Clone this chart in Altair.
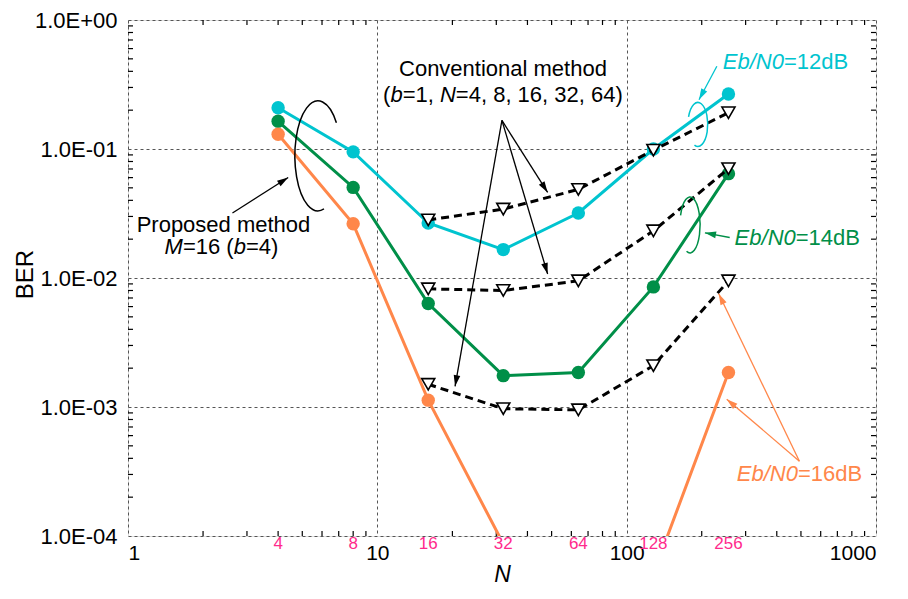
import math
import altair as alt
import pandas as pd

W, H = 748, 516
FONT = "Liberation Sans"

# ---------------- data ----------------
N_prop = [4, 8, 16, 32, 64, 128, 256]
ber_prop_12dB = [0.209, 0.095, 0.0267, 0.0166, 0.0319, 0.100, 0.267]
ber_prop_14dB = [0.164, 0.0504, 0.00634, 0.00175, 0.00185, 0.00853, 0.0644]
ber_prop_16dB = [0.130, 0.0263, 0.00113, 0.000087, 0.00003, 0.000051, 0.00185]

N_conv = [16, 32, 64, 128, 256]
ber_conv_12dB = [0.0282, 0.0342, 0.0486, 0.098, 0.191]
ber_conv_14dB = [0.00824, 0.0080, 0.0095, 0.0232, 0.0704]
ber_conv_16dB = [0.0015, 0.00097, 0.00095, 0.00209, 0.0095]

series_names = ["12dB", "14dB", "16dB"]
series_colors = ["#00c4cf", "#008f48", "#ff874a"]
PINK = "#ff2a8c"

x_tick_values = [1, 10, 100, 1000]
x_tick_labels = ["1", "10", "100", "1000"]
n_tick_values = [4, 8, 16, 32, 64, 128, 256]
n_tick_labels = ["4", "8", "16", "32", "64", "128", "256"]
y_tick_values = [0.0001, 0.001, 0.01, 0.1, 1.0]
y_tick_labels = ["1.0E-04", "1.0E-03", "1.0E-02", "1.0E-01", "1.0E+00"]
minor_mult = [2, 3, 4, 5, 6, 7, 8, 9]
x_decades = [1, 10, 100]
y_decades = [0.0001, 0.001, 0.01, 0.1]

# annotation text lines: anchor (N, BER), alignment, colour, segments (text, italic)
text_lines = [
    dict(N=31.9, BER=0.415, align="center", color="black",
         segments=[("Conventional method", False)]),
    dict(N=31.9, BER=0.263, align="center", color="black",
         segments=[("(", False), ("b", True), ("=1, ", False), ("N", True),
                   ("=4, 8, 16, 32, 64)", False)]),
    dict(N=2.415, BER=0.0258, align="center", color="black",
         segments=[("Proposed method", False)]),
    dict(N=2.37, BER=0.01725, align="center", color="black",
         segments=[("M", True), ("=16 (", False), ("b", True), ("=4)", False)]),
    dict(N=243, BER=0.469, align="left", color=series_colors[0],
         segments=[("Eb/N0", True), ("=12dB", False)]),
    dict(N=271, BER=0.0206, align="left", color=series_colors[1],
         segments=[("Eb/N0", True), ("=14dB", False)]),
    dict(N=276.4, BER=0.000303, align="left", color=series_colors[2],
         segments=[("Eb/N0", True), ("=16dB", False)]),
]

# arrows: start (N, BER) -> tip (N2, BER2)
arrows = [
    dict(N=2.624, BER=0.0319, N2=4.39, BER2=0.0601, color="black"),
    dict(N=31.6, BER=0.1665, N2=48.2, BER2=0.0461, color="black"),
    dict(N=31.6, BER=0.1665, N2=48.2, BER2=0.01073, color="black"),
    dict(N=31.6, BER=0.1665, N2=20.5, BER2=0.001446, color="black"),
    dict(N=230, BER=0.438, N2=195, BER2=0.241, color=series_colors[0]),
    dict(N=259, BER=0.0206, N2=206, BER2=0.0224, color=series_colors[1]),
    dict(N=493, BER=0.00038, N2=252, BER2=0.00115, color=series_colors[2]),
    dict(N=493, BER=0.00038, N2=234, BER2=0.00755, color=series_colors[2]),
]

# ellipse annotations: centre, colour, custom arc path, symbol size
ellipses = [
    dict(N=5.78, BER=0.0885, color="black",
         path="M0.335,-0.602 A0.42,1 0 1 0 0.109,0.966", size=12100),
    dict(N=193, BER=0.155, color=series_colors[0],
         path="M-0.423,-0.342 A0.45,1 0 1 1 -0.154,0.94", size=1936),
    dict(N=179.5, BER=0.0258, color=series_colors[1],
         path="M-0.338,-0.342 A0.36,1 0 1 1 -0.123,0.94", size=3136),
]

# ---------------- helpers ----------------
AW = {" ": .278, "(": .333, ")": .333, ",": .278, "/": .278, "=": .584,
      "B": .667, "C": .722, "E": .667, "M": .833, "N": .722, "P": .667,
      "a": .556, "b": .556, "c": .5, "d": .556, "e": .556, "h": .556,
      "i": .222, "l": .222, "m": .833, "n": .556, "o": .556, "p": .556,
      "r": .333, "s": .5, "t": .278, "v": .5}
TEXT_SIZE = 22


def text_width(s, size):
    return sum(AW.get(c, 0.556) for c in s) * size


def px_x(n):
    return math.log10(n) * W / 3


def n_from_px(p):
    return 10 ** (p * 3 / W)


def label_expr(values, labels):
    expr = f"'{labels[-1]}'"
    for v, l in reversed(list(zip(values[:-1], labels[:-1]))):
        expr = f"(datum.value < {v * 1.5!r} ? '{l}' : {expr})"
    return expr


rows = []
for ln in text_lines:
    total = sum(text_width(t, TEXT_SIZE) for t, _ in ln["segments"])
    left = px_x(ln["N"]) - (total / 2 if ln["align"] == "center" else 0)
    for t, it in ln["segments"]:
        rows.append(dict(N=n_from_px(left), BER=ln["BER"], text=t,
                         italic=it, color=ln["color"]))
        left += text_width(t, TEXT_SIZE)
text_df = pd.DataFrame(rows)

arrow_df = pd.DataFrame(arrows)
heads = []
for a in arrows:
    dx = (math.log10(a["N2"]) - math.log10(a["N"])) * W / 3
    dy = -(math.log10(a["BER2"]) - math.log10(a["BER"])) * H / 4
    ang = math.degrees(math.atan2(dx, -dy)) % 360
    heads.append(dict(N=a["N2"], BER=a["BER2"], angle=ang, color=a["color"]))
head_df = pd.DataFrame(heads)

prop_df = pd.DataFrame(
    [dict(N=n, BER=b, series=s)
     for s, bers in zip(series_names, [ber_prop_12dB, ber_prop_14dB, ber_prop_16dB])
     for n, b in zip(N_prop, bers)])
conv_df = pd.DataFrame(
    [dict(N=n, BER=b, series=s)
     for s, bers in zip(series_names, [ber_conv_12dB, ber_conv_14dB, ber_conv_16dB])
     for n, b in zip(N_conv, bers)])

xminor_df = pd.DataFrame({"N": [m * d for d in x_decades for m in minor_mult]})
yminor_df = pd.DataFrame({"BER": [m * d for d in y_decades for m in minor_mult]})
nlab_df = pd.DataFrame({"N": n_tick_values, "label": n_tick_labels})

# ---------------- scales / axes ----------------
xs = alt.Scale(type="log", domain=[1, 1000], nice=False)
ys = alt.Scale(type="log", domain=[0.0001, 1], nice=False)

xaxis = alt.Axis(values=x_tick_values, labelExpr=label_expr(x_tick_values, x_tick_labels),
                 labelFontSize=21, labelPadding=6, labelFont=FONT, labelColor="black",
                 ticks=False, domain=False, grid=True, gridDash=[3, 3], gridColor="#555555",
                 gridWidth=1, title="N", titleFont=FONT, titleFontSize=23,
                 titleFontStyle="italic", titleFontWeight="normal", titleColor="black",
                 titleX=374, titleY=50, titleBaseline="bottom")
yaxis = alt.Axis(values=y_tick_values, labelExpr=label_expr(y_tick_values, y_tick_labels),
                 labelFontSize=22, labelPadding=11, labelFont=FONT, labelColor="black",
                 ticks=False, domain=False, grid=True, gridDash=[3, 3], gridColor="#555555",
                 gridWidth=1, title="BER", titleFont=FONT, titleFontSize=24,
                 titleFontWeight="normal", titleColor="black", titleAngle=270,
                 titleX=-96, titleY=254, titleBaseline="alphabetic")

X = alt.X("N:Q", scale=xs, axis=xaxis)
Y = alt.Y("BER:Q", scale=ys, axis=yaxis)
COL = alt.Color("series:N", scale=alt.Scale(domain=series_names, range=series_colors),
                legend=None)

TRI = "M-1,-0.875 L1,-0.875 L0,0.875 Z"
ARROW = "M0,0 L0.45,1.5 L-0.45,1.5 Z"

layers = []

# inward minor ticks on all four sides
tick_kw = dict(color="black", strokeWidth=1.2)
layers.append(alt.Chart(xminor_df).mark_rule(**tick_kw).encode(
    x=X, y=alt.value(H), y2=alt.value(H - 5)))
layers.append(alt.Chart(xminor_df).mark_rule(**tick_kw).encode(
    x=X, y=alt.value(0), y2=alt.value(5)))
layers.append(alt.Chart(yminor_df).mark_rule(**tick_kw).encode(
    y=Y, x=alt.value(0), x2=alt.value(5)))
layers.append(alt.Chart(yminor_df).mark_rule(**tick_kw).encode(
    y=Y, x=alt.value(W), x2=alt.value(W - 5)))

# proposed method
layers.append(alt.Chart(prop_df).mark_line(strokeWidth=3, clip=True).encode(
    x=X, y=Y, color=COL, detail="series:N"))
layers.append(alt.Chart(prop_df).mark_circle(size=180, opacity=1, clip=True).encode(
    x=X, y=Y, color=COL))

# conventional method
layers.append(alt.Chart(conv_df).mark_line(strokeWidth=3, strokeDash=[8, 5],
                                           color="black").encode(
    x=X, y=Y, detail="series:N"))
layers.append(alt.Chart(conv_df).mark_point(shape=TRI, size=170, filled=True, fill="white",
                                            stroke="black", strokeWidth=1.6,
                                            opacity=1).encode(x=X, y=Y))

# ellipses
for e in ellipses:
    layers.append(alt.Chart(pd.DataFrame([dict(N=e["N"], BER=e["BER"])])).mark_point(
        shape=e["path"], size=e["size"], filled=False, color=e["color"],
        strokeWidth=1.5, opacity=1).encode(x=X, y=Y))

# arrows
layers.append(alt.Chart(arrow_df).mark_rule(strokeWidth=1.3).encode(
    x=X, y=Y, x2=alt.X2("N2:Q"), y2=alt.Y2("BER2:Q"),
    color=alt.Color("color:N", scale=None)))
layers.append(alt.Chart(head_df).mark_point(shape=ARROW, size=220, filled=True,
                                            opacity=1, strokeWidth=0).encode(
    x=X, y=Y, angle=alt.Angle("angle:Q", scale=None),
    color=alt.Color("color:N", scale=None)))

# annotation texts
for italic in [False, True]:
    sub = text_df[text_df["italic"] == italic]
    layers.append(alt.Chart(sub).mark_text(
        align="left", baseline="middle", font=FONT, fontSize=TEXT_SIZE,
        fontStyle="italic" if italic else "normal").encode(
        x=X, y=Y, text="text:N", color=alt.Color("color:N", scale=None)))

# pink N labels below the axis
layers.append(alt.Chart(nlab_df).mark_text(
    align="center", baseline="middle", font=FONT, fontSize=17, color=PINK).encode(
    x=X, y=alt.value(H + 8), text="label:N"))

chart = alt.layer(*layers).properties(
    width=W, height=H,
    autosize=alt.AutoSizeParams(type="none"),
    padding={"left": 120, "top": 12, "right": 24, "bottom": 51},
).configure_view(stroke="black", strokeWidth=2).configure(background="white")

chart.save("out.html", embed_options={"renderer": "svg", "actions": False})
